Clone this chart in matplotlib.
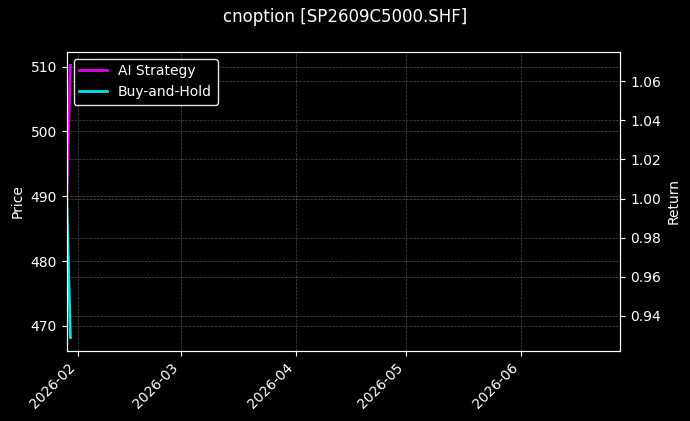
import numpy as np
import pandas as pd
import matplotlib
matplotlib.use("Agg")
import matplotlib.pyplot as plt
import matplotlib.dates as mdates

# Data
dates = pd.to_datetime(["2026-01-29", "2026-01-30"])
ai_strategy = [1.0, 1.068]
buy_and_hold = [1.0, 0.929]
price_low, price_high = 466.1, 512.3
x_start, x_end = pd.Timestamp("2026-01-29"), pd.Timestamp("2026-06-28")

plt.style.use("dark_background")

fig, ax1 = plt.subplots(figsize=(6.9, 4.21), dpi=100)
fig.subplots_adjust(left=0.0967, right=0.899, bottom=0.166, top=0.877)

ax1.set_ylim(price_low, price_high)
ax1.set_ylabel("Price")
ax1.grid(True, linestyle="--", linewidth=0.5, alpha=0.3)

ax2 = ax1.twinx()
ax2.plot(dates, ai_strategy, color="#ff00ff", lw=2, alpha=0.9, label="AI Strategy")
ax2.plot(dates, buy_and_hold, color="#00ffff", lw=2, alpha=0.9, label="Buy-and-Hold")
ax2.set_ylabel("Return")
ax2.grid(True, axis="y", linestyle="--", linewidth=0.5, alpha=0.3)

ax1.set_xlim(x_start, x_end)
ax1.xaxis.set_major_locator(mdates.MonthLocator())
ax1.xaxis.set_major_formatter(mdates.DateFormatter("%Y-%m"))
plt.setp(ax1.get_xticklabels(), rotation=45, ha="right")

leg = ax2.legend(loc="upper left", facecolor="black", edgecolor="white")
leg.get_frame().set_alpha(0.9)

fig.suptitle("cnoption [SP2609C5000.SHF]", fontsize=12)

fig.savefig("out.png", dpi=100)
